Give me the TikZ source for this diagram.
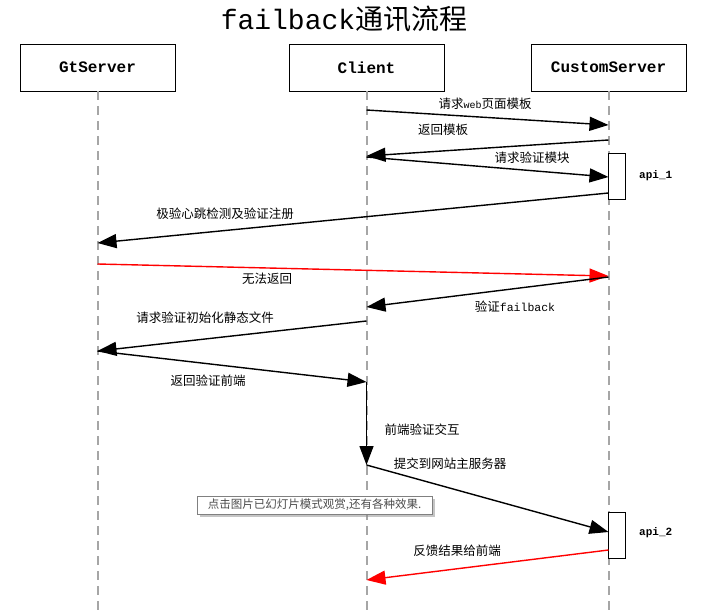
\documentclass[tikz,border=0pt]{standalone}
\usepackage{fontspec}
\setmainfont{Liberation Serif}
\newfontfamily\cjk{Noto Sans CJK SC}
\newfontfamily\monof{Liberation Mono}
\usetikzlibrary{arrows.meta,shadows}
\begin{document}
\begin{tikzpicture}[x=1pt,y=-1pt,
  actor/.style={draw,line width=0.9pt,minimum width=155pt,minimum height=47pt,inner sep=0pt,font=\monof\bfseries\fontsize{16}{18}\selectfont},
  life/.style={draw=black!35,line width=2pt,dash pattern=on 9pt off 6pt},
  actbox/.style={draw,fill=white,line width=0.8pt,minimum width=17pt,minimum height=46pt,inner sep=0pt},
  msg/.style={line width=1.4pt,-{Triangle[length=19pt,width=14pt]}},
  redmsg/.style={msg,draw=red,color=red},
  lbl/.style={font=\cjk\fontsize{12.5}{14}\selectfont,inner sep=0pt},
  apil/.style={font=\monof\bfseries\fontsize{11}{13}\selectfont,inner sep=0pt}
]
\useasboundingbox (0,0) rectangle (708,612);
\fill[white] (0,0) rectangle (708,612);
\node[inner sep=0pt,font=\fontsize{28}{32}\selectfont] (title) at (344,19) {\monof failback\cjk 通讯流程};
\node[actor] (gt) at (97.5,67.5) {GtServer};
\node[actor] (cl) at (366.5,67.5) {Client};
\node[actor] (cs) at (608.5,67.5) {CustomServer};
\coordinate (gtend) at (97.5,612);
\coordinate (clend) at (366.5,612);
\coordinate (csend) at (608.5,612);
\draw[life] (gt.south) -- (gtend);
\draw[life] (cl.south) -- (clend);
\draw[life] (cs.south) -- (csend);
% activation boxes
\node[actbox] (a1) at (617,176) {};
\node[actbox] (a2) at (617,535) {};
\node[apil,anchor=west] (api1) at (639,176) {api\_1};
\node[apil,anchor=west] (api2) at (639,533) {api\_2};
% coordinates
\coordinate (c1) at (366.5,110);
\coordinate (s1) at (608.5,125);
\coordinate (s2) at (608.5,140);
\coordinate (c2) at (366.5,156);
\coordinate (c3) at (366.5,157);
\coordinate (s3) at (608.5,177);
\coordinate (s4) at (608.5,193);
\coordinate (g4) at (97.5,243);
\coordinate (g5) at (97.5,264);
\coordinate (s5) at (608.5,276);
\coordinate (s6) at (608.5,277);
\coordinate (c6) at (366.5,307);
\coordinate (c7) at (366.5,321);
\coordinate (g7) at (97.5,351);
\coordinate (g8) at (97.5,351);
\coordinate (c8) at (366.5,382);
\coordinate (c9) at (366.5,465);
\coordinate (s10) at (608.5,532);
\coordinate (s11) at (608.5,550);
\coordinate (c11) at (366.5,580);
% messages
\draw[msg] (c1) -- (s1);
\node[lbl] (l1) at (485,104) {请求{\monof\fontsize{10}{11}\selectfont web}页面模板};
\draw[msg] (s2) -- (c2);
\node[lbl] (l2) at (443,130) {返回模板};
\draw[msg] (c3) -- (s3);
\node[lbl] (l3) at (532,158) {请求验证模块};
\draw[msg] (s4) -- (g4);
\node[lbl] (l4) at (225,214) {极验心跳检测及验证注册};
\draw[redmsg] (g5) -- (s5);
\node[lbl] (l5) at (267,279) {无法返回};
\draw[msg] (s6) -- (c6);
\node[lbl] (l6) at (515,307) {验证{\monof\fontsize{11.5}{13}\selectfont failback}};
\draw[msg] (c7) -- (g7);
\node[lbl] (l7) at (205,318) {请求验证初始化静态文件};
\draw[msg] (g8) -- (c8);
\node[lbl] (l8) at (208,381) {返回验证前端};
\draw[msg] (c8) -- (c9);
\node[lbl] (l9) at (422,430) {前端验证交互};
\draw[msg] (c9) -- (s10);
\node[lbl] (l10) at (450,464) {提交到网站主服务器};
\draw[redmsg] (s11) -- (c11);
\node[lbl] (l11) at (457,551) {反馈结果给前端};
% tooltip
\node[draw=black!50,fill=white,drop shadow={shadow xshift=3pt,shadow yshift=-3pt,fill=black!45},
  inner xsep=3pt,inner ysep=2pt,minimum width=235pt,minimum height=18pt,
  font=\cjk\fontsize{11.5}{13}\selectfont,text=black!70] (tip) at (314.5,505) {点击图片已幻灯片模式观赏,还有各种效果.};
\end{tikzpicture}
\end{document}
